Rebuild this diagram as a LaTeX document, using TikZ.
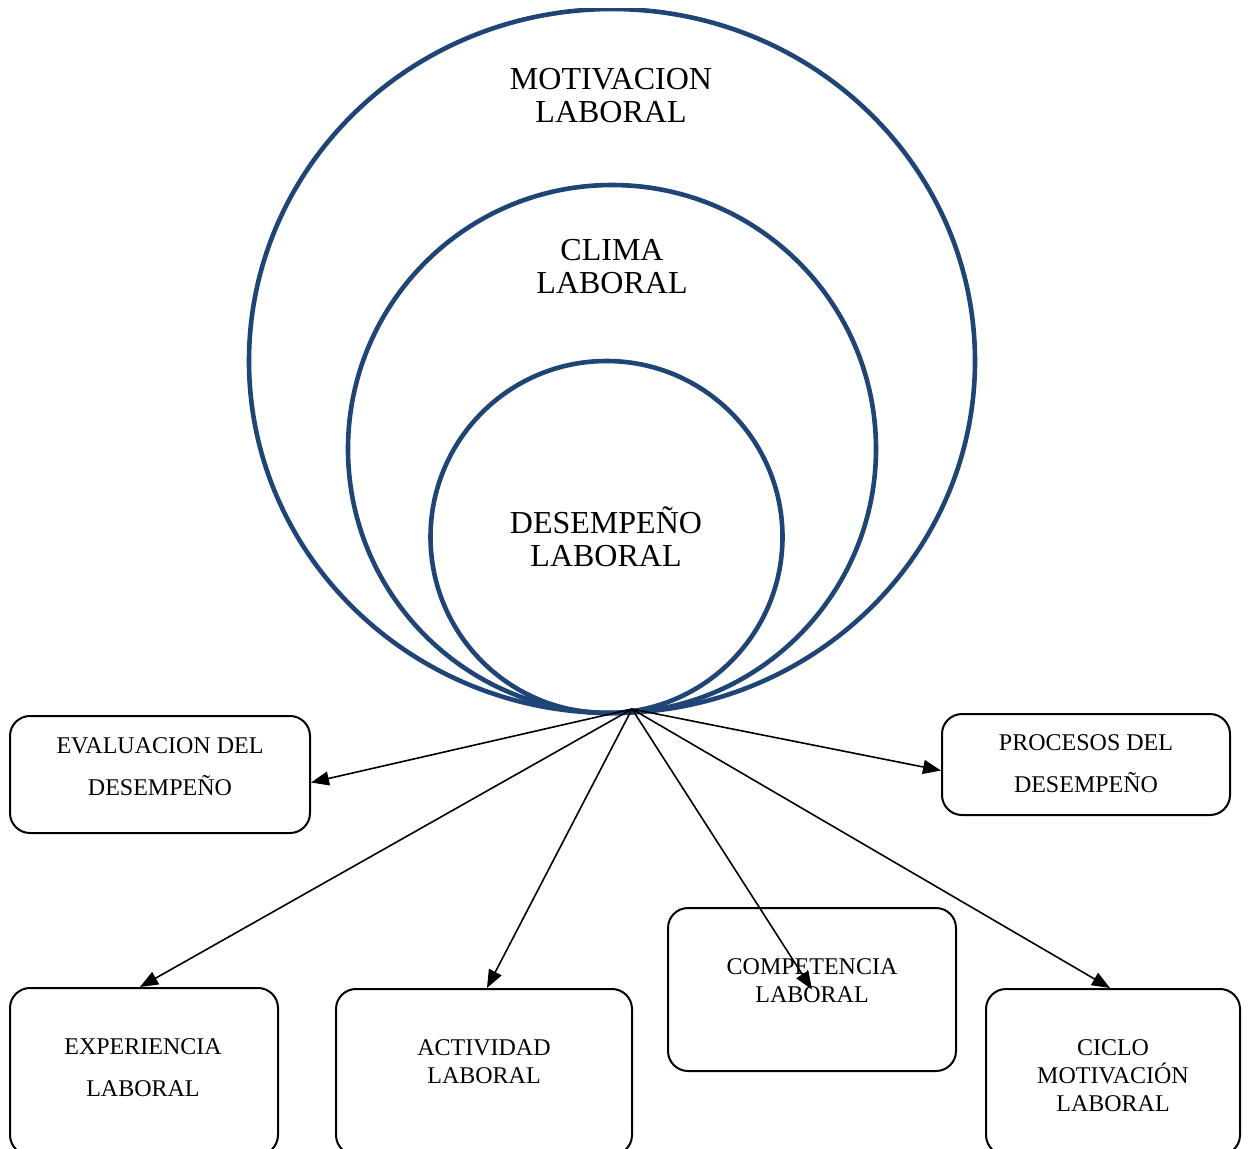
\documentclass[tikz,border=0pt]{standalone}
\usepackage{fontspec}
\setmainfont{Liberation Serif}
\usetikzlibrary{arrows.meta}
\definecolor{ringblue}{RGB}{31,68,118}
\begin{document}
\begin{tikzpicture}[x=0.5pt,y=-0.5pt,
  ring/.style={draw=ringblue,line width=2.3pt},
  ringtext/.style={align=center,font=\fontsize{16}{16.5}\selectfont,inner sep=0pt},
  card/.style={draw=black,line width=1pt,rounded corners=10pt,rectangle,inner sep=0pt},
  cardwide/.style={align=center,font=\fontsize{12}{21}\selectfont,inner sep=0pt},
  cardtight/.style={align=center,font=\fontsize{12}{14}\selectfont,inner sep=0pt},
  link/.style={line width=0.8pt,-{Triangle[length=9pt,width=7pt]}}]
\useasboundingbox (0,0) rectangle (1249,1148);

% nested rings
\begin{scope}
  \clip (0,8) rectangle (1249,1148);
  \draw[ring] (612,361) ellipse [x radius=363, y radius=352];
\end{scope}
\draw[ring] (612,449) circle [radius=264];
\draw[ring] (606.5,537) circle [radius=176];

\node[ringtext] (motiv) at (611,96) {MOTIVACION\\LABORAL};
\node[ringtext] (clima) at (612,267) {CLIMA\\LABORAL};
\node[ringtext] (desem) at (606,537) {DESEMPEÑO\\LABORAL};

% cards
\node[card,minimum width=150pt,minimum height=58.5pt] (eval) at (160,774.5) {};
\node[card,minimum width=144pt,minimum height=50.5pt] (proc) at (1086,764.5) {};
\node[card,minimum width=134pt,minimum height=83.5pt] (exp) at (144,1071.5) {};
\node[card,minimum width=148pt,minimum height=83pt] (act) at (484,1072) {};
\node[card,minimum width=144pt,minimum height=81.5pt] (comp) at (812,989.5) {};
\node[card,minimum width=127pt,minimum height=83pt] (ciclo) at (1113,1072) {};

\node[cardwide] (evalt) at (160,767) {EVALUACION DEL\\DESEMPEÑO};
\node[cardwide] (proct) at (1086,763.5) {PROCESOS DEL\\DESEMPEÑO};
\node[cardwide] (expt) at (143,1068) {EXPERIENCIA\\LABORAL};
\node[cardtight] (actt) at (484,1062) {ACTIVIDAD\\LABORAL};
\node[cardtight] (compt) at (812,981) {COMPETENCIA\\LABORAL};
\node[cardtight] (ciclot) at (1113,1076) {CICLO\\MOTIVACIÓN\\LABORAL};

% connectors from the base of the rings
\coordinate (apex) at (632,709);
\draw[link] (apex) -- ([yshift=-4pt]eval.east);
\draw[link] (apex) -- ([yshift=-3pt]proc.west);
\draw[link] (apex) -- ([xshift=-2pt]exp.north);
\draw[link] (apex) -- ([xshift=1.5pt]act.north);
\draw[link] (apex) -- (comp.center);
\draw[link] (apex) -- ([xshift=-1.5pt]ciclo.north);
\end{tikzpicture}
\end{document}
